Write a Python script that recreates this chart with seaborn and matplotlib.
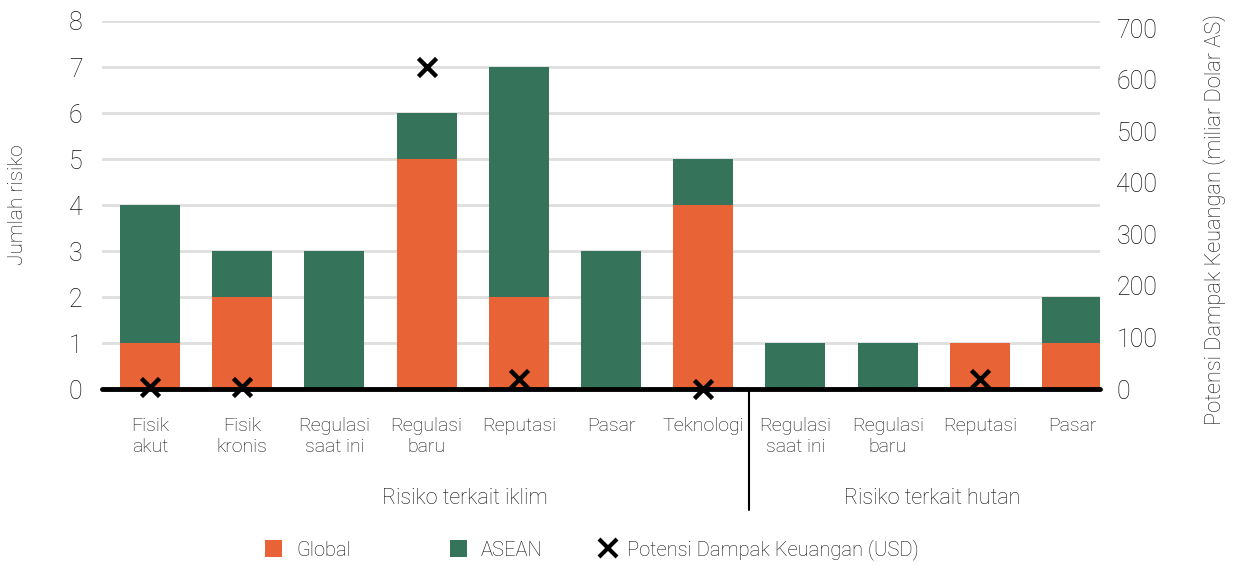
import numpy as np
import pandas as pd
import matplotlib
matplotlib.use("Agg")
import matplotlib.pyplot as plt
from matplotlib.lines import Line2D
from matplotlib.patches import Patch
import seaborn as sns

# Risk categories (two-line tick labels) and their group
categories = ["Fisik\nakut", "Fisik\nkronis", "Regulasi\nsaat ini", "Regulasi\nbaru",
              "Reputasi", "Pasar", "Teknologi",
              "Regulasi\nsaat ini", "Regulasi\nbaru", "Reputasi", "Pasar"]
global_counts = [1, 2, 0, 5, 2, 0, 4, 0, 0, 1, 1]
asean_counts = [3, 1, 3, 1, 5, 3, 1, 1, 1, 0, 1]
# Potential financial impact, billion USD (None = not reported)
impact_usd = [3, 3, None, 625, 20, None, 0, None, None, 20, None]
group_labels = ["Risiko terkait iklim", "Risiko terkait hutan"]

ORANGE = "#E86335"
GREEN = "#35745A"
GRID = "#DEDEDE"
TEXT = "#111111"

sns.set_theme(style="white")
plt.rcParams["font.family"] = ["Roboto", "DejaVu Sans"]
plt.rcParams["font.weight"] = "light"

pos = list(range(len(categories)))
df = pd.DataFrame({
    "pos": pos,
    "Global": global_counts,
    "ASEAN": asean_counts,
    "impact": impact_usd,
})
df["total"] = df["Global"] + df["ASEAN"]

fig = plt.figure(figsize=(12.37, 5.66), dpi=100)
ax = fig.add_axes([0.0825, 0.3127, 0.8065, 0.6502])

# Stacked bars: total (ASEAN on top) then Global at the bottom
sns.barplot(data=df, x="pos", y="total", color=GREEN, width=0.65,
            saturation=1, ax=ax, zorder=2, order=pos, linewidth=0, edgecolor="none")
sns.barplot(data=df, x="pos", y="Global", color=ORANGE, width=0.65,
            saturation=1, ax=ax, zorder=3, order=pos, linewidth=0, edgecolor="none")

ax.set_xlim(-0.52, 10.3)
ax.set_ylim(0, 8)
ax.set_yticks(range(0, 9))
ax.yaxis.grid(True, color=GRID, linewidth=2, zorder=0)
ax.set_axisbelow(True)
for s in ax.spines.values():
    s.set_visible(False)
ax.axhline(0, color="black", linewidth=3.5, zorder=5, clip_on=False)

ax.set_xticks(pos)
ax.set_xticklabels(categories, fontsize=14, color=TEXT, linespacing=1.2,
                   fontweight="light", va="top")
ax.tick_params(axis="x", length=0, pad=20)
ax.tick_params(axis="y", length=0, pad=14, labelsize=18, labelcolor=TEXT)
for t in ax.get_yticklabels():
    t.set_fontweight("light")
ax.set_xlabel("")
ax.set_ylabel("Jumlah risiko", fontsize=15, color=TEXT, fontweight="light", labelpad=30)

# Secondary axis: financial impact markers
ax2 = ax.twinx()
imp = df.dropna(subset=["impact"])
sns.scatterplot(data=imp, x="pos", y="impact", marker="x", s=170, color="black",
                linewidth=3.2, ax=ax2, zorder=6, clip_on=False, legend=False)
ax2.set_ylim(0, 713.6)
ax2.set_yticks(range(0, 701, 100))
ax2.tick_params(axis="y", length=0, pad=12, labelsize=18, labelcolor=TEXT)
for t in ax2.get_yticklabels():
    t.set_fontweight("light")
for s in ax2.spines.values():
    s.set_visible(False)
ax2.grid(False)
ax2.set_ylabel("Potensi Dampak Keuangan (miliar Dolar AS)", fontsize=15.7,
               color=TEXT, fontweight="light", labelpad=33)
ax2.yaxis.label.set_y(0.46)
ax2.set_xlim(ax.get_xlim())

# Group divider and group labels
ax.plot([6.5, 6.5], [0, -2.63], color="black", linewidth=1.5,
        clip_on=False, zorder=5)
ax.text(3.42, -2.37, group_labels[0], ha="center", va="center", fontsize=15.5,
        color=TEXT, fontweight="light")
ax.text(8.48, -2.37, group_labels[1], ha="center", va="center", fontsize=15.5,
        color=TEXT, fontweight="light")

# Legend entries, each placed on its own
entries = [
    (Patch(facecolor=ORANGE, edgecolor="none", label="Global"), 265, 0.7),
    (Patch(facecolor=GREEN, edgecolor="none", label="ASEAN"), 450, 0.65),
    (Line2D([], [], marker="x", linestyle="none", color="black", markersize=13,
            markeredgewidth=3, label="Potensi Dampak Keuangan (USD)"), 599, 0.55),
]
W, H = 1237, 566
for handle, x_px, tpad in entries:
    leg = fig.legend(handles=[handle], loc="center left",
                     bbox_to_anchor=(x_px / W, 1 - 550 / H),
                     frameon=False, fontsize=14.5, handlelength=0.85,
                     handleheight=0.85, handletextpad=tpad,
                     borderpad=0, borderaxespad=0)
    for t in leg.get_texts():
        t.set_color(TEXT)
        t.set_fontweight("light")

fig.savefig("out.png", dpi=100)
